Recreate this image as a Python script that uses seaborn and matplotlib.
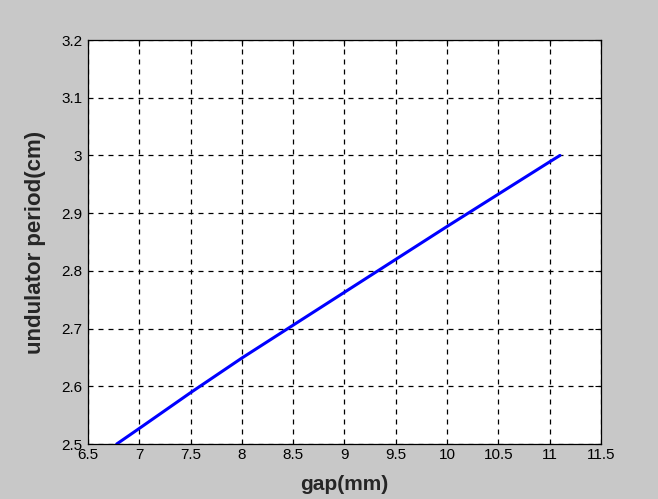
import matplotlib
matplotlib.use("Agg")
import matplotlib.pyplot as plt
import seaborn as sns
import pandas as pd

# gap vs. undulator period
gap_mm = [6.78, 7.0, 7.5, 8.0, 8.5, 9.0, 9.5, 10.0, 10.5, 11.0, 11.1]
period_cm = [2.500, 2.527, 2.589, 2.649, 2.706, 2.763, 2.820, 2.877, 2.933, 2.989, 3.000]

x_ticks = [6.5, 7, 7.5, 8, 8.5, 9, 9.5, 10, 10.5, 11, 11.5]
y_ticks = [2.5, 2.6, 2.7, 2.8, 2.9, 3.0, 3.1, 3.2]
x_labels = ["6.5", "7", "7.5", "8", "8.5", "9", "9.5", "10", "10.5", "11", "11.5"]
y_labels = ["2.5", "2.6", "2.7", "2.8", "2.9", "3", "3.1", "3.2"]

df = pd.DataFrame({"gap": gap_mm, "period": period_cm})

sns.set_style("white")
plt.rcParams["font.family"] = ["Liberation Sans", "DejaVu Sans"]

fig = plt.figure(figsize=(6.58, 4.99), dpi=100, facecolor="#c8c8c8")
ax = fig.add_axes([0.1337, 0.1102, 0.7797, 0.8096])
ax.set_facecolor("white")

sns.lineplot(data=df, x="gap", y="period", ax=ax, color="#0000ff",
             linewidth=2.2, sort=False)

ax.set_xlim(6.5, 11.5)
ax.set_ylim(2.5, 3.2)
ax.set_xticks(x_ticks)
ax.set_xticklabels(x_labels)
ax.set_yticks(y_ticks)
ax.set_yticklabels(y_labels)

ax.grid(True, color="black", linestyle=(0, (4, 4)), linewidth=0.9)
ax.tick_params(direction="in", length=4, width=0.8, colors="black",
               labelsize=11, top=True, right=True)
ax.tick_params(axis="x", pad=3)
ax.tick_params(axis="y", pad=4)
for s in ax.spines.values():
    s.set_color("black")
    s.set_linewidth(0.9)

ax.set_xlabel("gap(mm)", fontsize=15, fontweight="bold", labelpad=9)
ax.set_ylabel("undulator period(cm)", fontsize=16, fontweight="bold", labelpad=11)

fig.savefig("out.png", dpi=100, facecolor=fig.get_facecolor())
